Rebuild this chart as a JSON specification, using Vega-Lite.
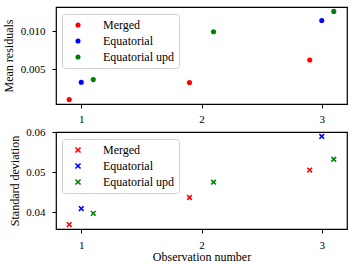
{
  "$schema": "https://vega.github.io/schema/vega-lite/v6.json",
  "background": "white",
  "padding": {"left": 2, "top": 6, "right": 8, "bottom": 4},
  "bounds": "flush",
  "spacing": 28,
  "config": {
    "font": "Liberation Serif",
    "view": {"stroke": "black", "strokeWidth": 1.2},
    "axis": {
      "grid": false, "domain": false, "tickColor": "black", "tickSize": 4, "tickWidth": 1,
      "labelFont": "Liberation Serif", "labelFontSize": 11, "labelColor": "black",
      "titleFont": "Liberation Serif", "titleFontSize": 12, "titleFontWeight": "normal", "titleColor": "black"
    },
    "legend": {
      "orient": "none", "legendX": 6, "legendY": 7, "title": null,
      "labelFont": "Liberation Serif", "labelFontSize": 12, "labelColor": "black",
      "fillColor": "rgba(255,255,255,0.85)", "strokeColor": "#d0d0d0", "cornerRadius": 3,
      "padding": 5, "rowPadding": 4, "symbolOffset": 5, "labelOffset": 19, "symbolSize": 30
    }
  },
  "datasets": {
    "mean": [
      {"obs": 0.9, "series": "Merged", "value": 0.00106},
      {"obs": 1.0, "series": "Equatorial", "value": 0.00332},
      {"obs": 1.1, "series": "Equatorial upd", "value": 0.00367},
      {"obs": 1.9, "series": "Merged", "value": 0.00328},
      {"obs": 2.1, "series": "Equatorial upd", "value": 0.00991},
      {"obs": 2.9, "series": "Merged", "value": 0.00623},
      {"obs": 3.0, "series": "Equatorial", "value": 0.01137},
      {"obs": 3.1, "series": "Equatorial upd", "value": 0.01256}
    ],
    "std": [
      {"obs": 0.9, "series": "Merged", "value": 0.0369},
      {"obs": 1.0, "series": "Equatorial", "value": 0.0409},
      {"obs": 1.1, "series": "Equatorial upd", "value": 0.0397},
      {"obs": 1.9, "series": "Merged", "value": 0.04366},
      {"obs": 2.1, "series": "Equatorial upd", "value": 0.04748},
      {"obs": 2.9, "series": "Merged", "value": 0.0505},
      {"obs": 3.0, "series": "Equatorial", "value": 0.0589},
      {"obs": 3.1, "series": "Equatorial upd", "value": 0.0532}
    ]
  },
  "resolve": {"scale": {"color": "independent"}, "legend": {"color": "independent"}},
  "vconcat": [
    {
      "width": 291, "height": 97,
      "data": {"name": "mean"},
      "mark": {"type": "point", "filled": true, "shape": "circle", "size": 26, "opacity": 1},
      "encoding": {
        "x": {"field": "obs", "type": "quantitative", "scale": {"domain": [0.79, 3.21], "nice": false, "zero": false},
              "axis": {"values": [1, 2, 3], "format": "d", "title": null, "labelPadding": 5}},
        "y": {"field": "value", "type": "quantitative", "scale": {"domain": [0.000485, 0.013135], "nice": false, "zero": false},
              "axis": {"values": [0.005, 0.010], "format": ".3f", "title": "Mean residuals", "labelPadding": 7, "titlePadding": 4.5}},
        "color": {"field": "series", "type": "nominal",
                  "scale": {"domain": ["Merged", "Equatorial", "Equatorial upd"], "range": ["#ff0000", "#0000ff", "#008000"]},
                  "legend": {"symbolType": "circle", "symbolSize": 26}}
      }
    },
    {
      "width": 291, "height": 97,
      "data": {"name": "std"},
      "mark": {"type": "point", "filled": false, "shape": "M-1,-1L1,1M1,-1L-1,1", "size": 22, "strokeWidth": 1.6, "opacity": 1},
      "encoding": {
        "x": {"field": "obs", "type": "quantitative", "scale": {"domain": [0.79, 3.21], "nice": false, "zero": false},
              "axis": {"values": [1, 2, 3], "format": "d", "title": "Observation number", "labelPadding": 6, "titlePadding": 1}},
        "y": {"field": "value", "type": "quantitative", "scale": {"domain": [0.0358, 0.0600], "nice": false, "zero": false},
              "axis": {"values": [0.04, 0.05, 0.06], "format": ".2f", "title": "Standard deviation", "labelPadding": 7, "titlePadding": 4.5}},
        "color": {"field": "series", "type": "nominal",
                  "scale": {"domain": ["Merged", "Equatorial", "Equatorial upd"], "range": ["#ff0000", "#0000ff", "#008000"]},
                  "legend": {"symbolType": "M-1,-1L1,1M1,-1L-1,1", "symbolFillColor": "transparent", "symbolStrokeWidth": 1.6, "symbolSize": 26}}
      }
    }
  ]
}
